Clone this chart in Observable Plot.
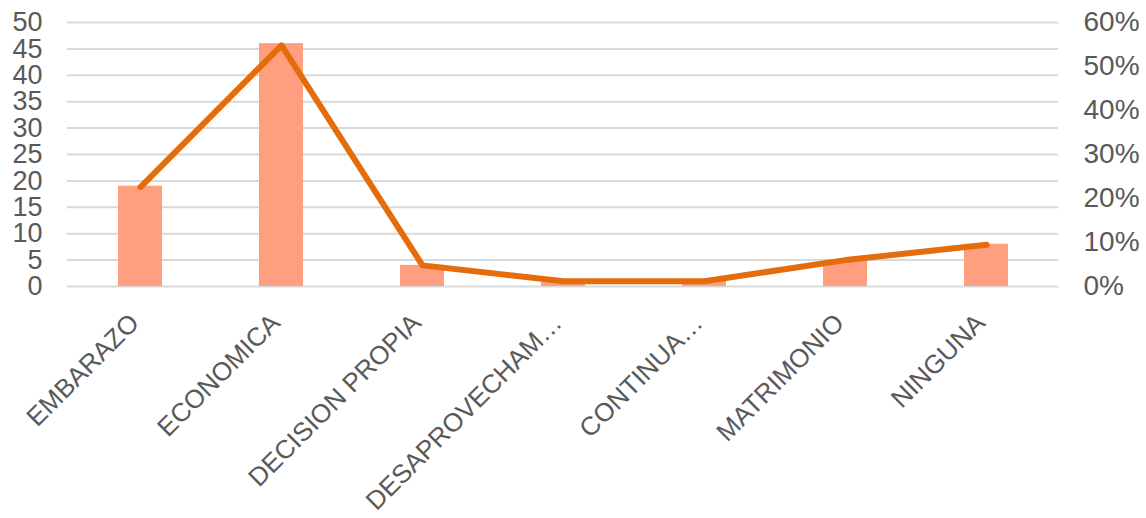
<!DOCTYPE html>
<html>
<head>
<meta charset="utf-8">
<script src="https://cdn.jsdelivr.net/npm/d3@7"></script>
<script src="https://cdn.jsdelivr.net/npm/@observablehq/plot@0.6"></script>
<style>
  html, body { margin: 0; padding: 0; background: #fff; }
  #chart { width: 1146px; height: 518px; }
</style>
</head>
<body>
<div id="chart"></div>
<script>
const categories = ["EMBARAZO", "ECONOMICA", "DECISION PROPIA", "DESAPROVECHAM…", "CONTINUA…", "MATRIMONIO", "NINGUNA"];
const counts = [19, 46, 4, 1, 1, 5, 8];
const percents = [22.6, 54.8, 4.8, 1.2, 1.2, 6.0, 9.5];
const leftTicks = [0, 5, 10, 15, 20, 25, 30, 35, 40, 45, 50];
const rightTicks = [0, 10, 20, 30, 40, 50, 60];

const leftMax = 50, rightMax = 60;
const rows = categories.map((c, i) => ({cat: c, count: counts[i], pct: percents[i]}));

const textColor = "#595959";
const chart = Plot.plot({
  width: 1146,
  height: 518,
  marginLeft: 67,
  marginRight: 88,
  marginTop: 22,
  marginBottom: 232,
  style: {fontFamily: "'Liberation Sans', Arial, sans-serif", fontSize: "27px", color: textColor, background: "#fff", overflow: "visible"},
  x: {domain: categories, paddingInner: 0.69, paddingOuter: 0.345, axis: null},
  y: {domain: [0, leftMax], axis: null},
  marks: [
    Plot.gridY(leftTicks, {stroke: "#d9d9d9", strokeOpacity: 1, strokeWidth: 2}),
    Plot.barY(rows, {x: "cat", y: "count", fill: "#FF9F7F"}),
    Plot.line(rows, {x: "cat", y: d => d.pct / rightMax * leftMax, stroke: "#E46C0A", strokeWidth: 6, strokeLinecap: "round", strokeLinejoin: "round"}),
    Plot.axisY(leftTicks, {tickSize: 0, tickPadding: 25, fontSize: 27, fill: textColor, label: null}),
    Plot.text(rightTicks, {y: d => d / rightMax * leftMax, text: d => d + "%", frameAnchor: "right", textAnchor: "start", dx: 25, fontSize: 28, fill: textColor}),
    Plot.text(categories, {x: d => d, text: d => d, frameAnchor: "bottom", rotate: -45, textAnchor: "end", lineAnchor: "bottom", dx: 0, dy: 38, fontSize: 26, fill: textColor})
  ]
});
document.getElementById("chart").appendChild(chart);
</script>
</body>
</html>
